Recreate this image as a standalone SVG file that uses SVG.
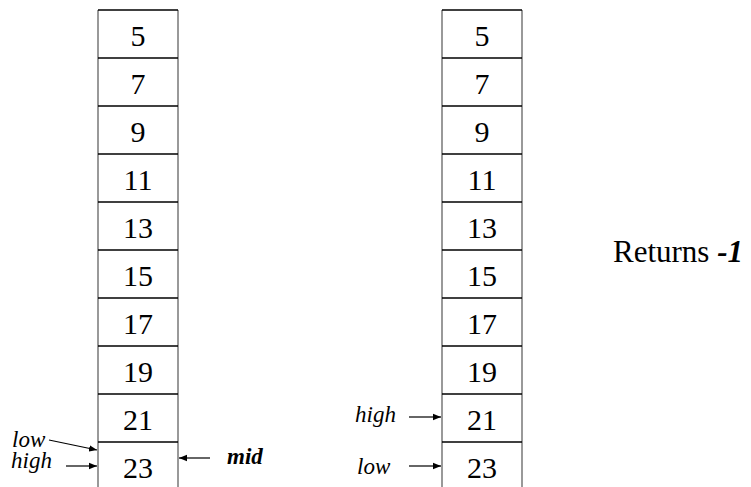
<svg xmlns="http://www.w3.org/2000/svg" width="751" height="487" viewBox="0 0 751 487">
<style>
.v{stroke:#777;stroke-width:1.5}
.h{stroke:#000;stroke-width:1.5}
.n{font-size:30px;text-anchor:middle;fill:#000}
.l{font-size:23px;font-style:italic;fill:#000}
.c{stroke:#000;stroke-width:1.2;fill:none;marker-end:url(#a)}
</style>
<defs>
<marker id="a" viewBox="0 0 10 10" refX="10" refY="5" markerWidth="8" markerHeight="8" markerUnits="userSpaceOnUse" orient="auto">
<path d="M0,1 L10,5 L0,9 Z" fill="#000"/>
</marker>
</defs>
<rect width="751" height="487" fill="#fff"/>
<g id="left-array">
<line class="v" x1="98" y1="10" x2="98" y2="487"/>
<line class="v" x1="178" y1="10" x2="178" y2="487"/>
<line class="h" x1="98" y1="10" x2="178" y2="10"/>
<line class="h" x1="98" y1="58" x2="178" y2="58"/>
<line class="h" x1="98" y1="106" x2="178" y2="106"/>
<line class="h" x1="98" y1="154" x2="178" y2="154"/>
<line class="h" x1="98" y1="202" x2="178" y2="202"/>
<line class="h" x1="98" y1="250" x2="178" y2="250"/>
<line class="h" x1="98" y1="298" x2="178" y2="298"/>
<line class="h" x1="98" y1="346" x2="178" y2="346"/>
<line class="h" x1="98" y1="394" x2="178" y2="394"/>
<line class="h" x1="98" y1="442" x2="178" y2="442"/>
<text class="n" font-family="Liberation Serif" x="138" y="46">5</text>
<text class="n" font-family="Liberation Serif" x="138" y="94">7</text>
<text class="n" font-family="Liberation Serif" x="138" y="142">9</text>
<text class="n" font-family="Liberation Serif" x="138" y="190">11</text>
<text class="n" font-family="Liberation Serif" x="138" y="238">13</text>
<text class="n" font-family="Liberation Serif" x="138" y="286">15</text>
<text class="n" font-family="Liberation Serif" x="138" y="334">17</text>
<text class="n" font-family="Liberation Serif" x="138" y="382">19</text>
<text class="n" font-family="Liberation Serif" x="138" y="430">21</text>
<text class="n" font-family="Liberation Serif" x="138" y="478">23</text>
</g>
<g id="right-array">
<line class="v" x1="442" y1="10" x2="442" y2="487"/>
<line class="v" x1="522" y1="10" x2="522" y2="487"/>
<line class="h" x1="442" y1="10" x2="522" y2="10"/>
<line class="h" x1="442" y1="58" x2="522" y2="58"/>
<line class="h" x1="442" y1="106" x2="522" y2="106"/>
<line class="h" x1="442" y1="154" x2="522" y2="154"/>
<line class="h" x1="442" y1="202" x2="522" y2="202"/>
<line class="h" x1="442" y1="250" x2="522" y2="250"/>
<line class="h" x1="442" y1="298" x2="522" y2="298"/>
<line class="h" x1="442" y1="346" x2="522" y2="346"/>
<line class="h" x1="442" y1="394" x2="522" y2="394"/>
<line class="h" x1="442" y1="442" x2="522" y2="442"/>
<text class="n" font-family="Liberation Serif" x="482" y="46">5</text>
<text class="n" font-family="Liberation Serif" x="482" y="94">7</text>
<text class="n" font-family="Liberation Serif" x="482" y="142">9</text>
<text class="n" font-family="Liberation Serif" x="482" y="190">11</text>
<text class="n" font-family="Liberation Serif" x="482" y="238">13</text>
<text class="n" font-family="Liberation Serif" x="482" y="286">15</text>
<text class="n" font-family="Liberation Serif" x="482" y="334">17</text>
<text class="n" font-family="Liberation Serif" x="482" y="382">19</text>
<text class="n" font-family="Liberation Serif" x="482" y="430">21</text>
<text class="n" font-family="Liberation Serif" x="482" y="478">23</text>
</g>
<g id="labels">
<text class="l" font-family="Liberation Serif" x="12" y="447">low</text>
<text class="l" font-family="Liberation Serif" x="11" y="468">high</text>
<text class="l" font-family="Liberation Serif" x="227" y="464" font-weight="bold">mid</text>
<text class="l" font-family="Liberation Serif" x="355" y="422">high</text>
<text class="l" font-family="Liberation Serif" x="357" y="474">low</text>
<text font-family="Liberation Serif" x="613" y="262" font-size="31" fill="#000">Returns <tspan font-weight="bold" font-style="italic">-1</tspan></text>
</g>
<g id="connectors">
<line class="c" x1="49" y1="440" x2="97" y2="450"/>
<line class="c" x1="66" y1="466" x2="97" y2="466"/>
<line class="c" x1="210" y1="458" x2="179" y2="458"/>
<line class="c" x1="409" y1="417" x2="441" y2="417"/>
<line class="c" x1="409" y1="466" x2="441" y2="466"/>
</g>
</svg>
